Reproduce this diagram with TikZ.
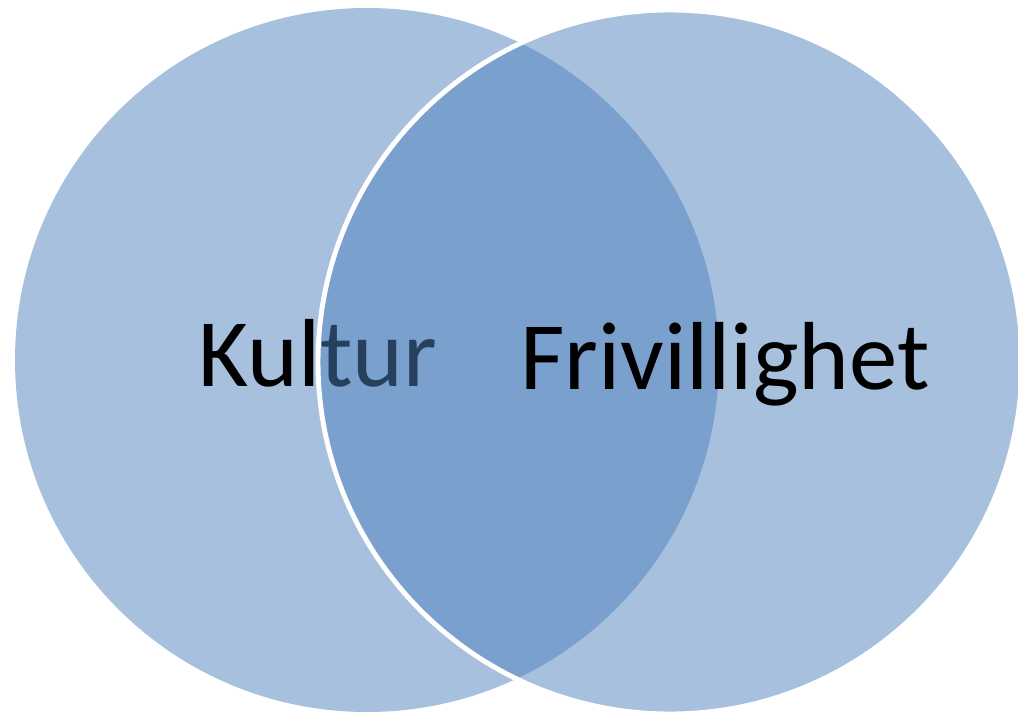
\documentclass[tikz,border=0pt]{standalone}
\usepackage{fontspec}
\setmainfont{Carlito}
\usepackage{xcolor}
\usepackage{tikz}
\usetikzlibrary{positioning}
\definecolor{C0}{HTML}{4F81BD}

\begin{document}
\begin{tikzpicture}[x=0.01cm, y=0.01cm,
  set/.style={fill=C0, fill opacity=0.5},
  label/.style={font=\fontsize{27.5}{32}\selectfont, anchor=base, inner sep=0pt}]
\useasboundingbox (0,0) rectangle (1018,715);
\fill[set] (367,355) circle[radius=352];
\node[label] (kultur) at (318,328) {Kultur};
\draw[set, draw=white, draw opacity=1, line width=1.4pt] (670,353) circle[radius=352];
\node[label] (frivillighet) at (725,325) {Frivillighet};
\end{tikzpicture}
\end{document}
